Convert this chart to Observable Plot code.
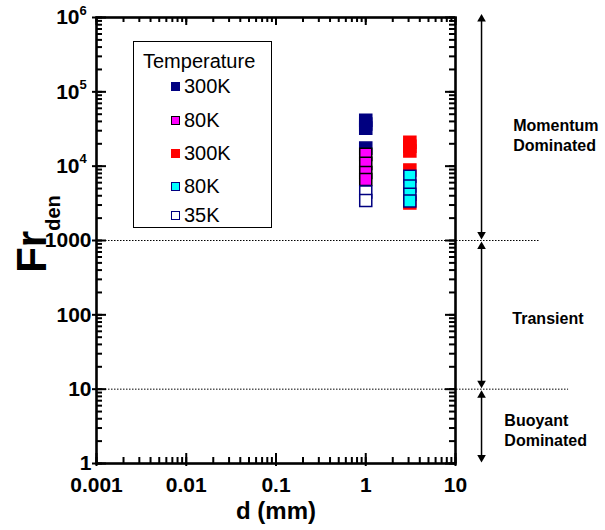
<!DOCTYPE html>
<html><head><meta charset="utf-8">
<script src="https://cdn.jsdelivr.net/npm/d3@7"></script>
<script src="https://cdn.jsdelivr.net/npm/@observablehq/plot@0.6"></script>
<style>
body{margin:0;background:#fff;}
#wrap{position:relative;width:605px;height:530px;font-family:"Liberation Sans",Arial,sans-serif;}
#legend{position:absolute;left:133px;top:41px;width:139px;height:187px;border:1px solid #000;background:#fff;box-sizing:border-box;}
#legend .ttl{position:absolute;left:9px;font-size:20px;line-height:20px;transform:translateY(-50%);}
#legend .row{position:absolute;left:37px;font-size:20px;line-height:20px;display:flex;align-items:center;transform:translateY(-50%);}
#legend .sw{width:9px;height:9px;box-sizing:border-box;margin-right:4px;}
</style></head>
<body><div id="wrap"></div>
<script>
// ---- data ----
const legendTitle = "Temperature";
const seriesLabels = ["300K", "80K", "300K", "80K", "35K"];
const seriesDiam = [1, 1, 3.1, 3.1, 1];            // d (mm)
const fr300K_a = [41500, 37000, 32500, 17500];
const fr80K_a  = [14400, 10900, 8200, 6600];
const fr300K_b = [21000, 18500, 16000, 8900, 3200];
const fr80K_b  = [7300, 5400, 4200, 3400];
const fr35K_a  = [4500, 3450];
const seriesValues = [fr300K_a, fr80K_a, fr300K_b, fr80K_b, fr35K_a];

const xDomain = [0.001, 10];
const yDomain = [1, 1e6];
const xMajor = [0.001, 0.01, 0.1, 1, 10];
const yPlainTicks = [1, 10, 100, 1000];
const yPowTicks = [1e4, 1e5, 1e6];
const yPowExp = ["4", "5", "6"];
const xMinor = d3.scaleLog().domain(xDomain).ticks(30);
const yMinor = d3.scaleLog().domain(yDomain).ticks(30);
const yMajor = [...yPlainTicks, ...yPowTicks];

const regimeBounds = [1000, 10];
const regimeBoundEnd = [86, 182];
const regimeNames = ["Momentum\nDominated", "Transient", "Buoyant\nDominated"];
const regimeLabelX = [44, 43, 35];
const regimeLabelY = [26700, 92, 2.9];
const arrowX = 19.5;
const arrowTop = [1.15e6, 1000, 10];
const arrowBottom = [1000, 10, 1];

// ---- styles ----
const fills = ["#000080", "#ff00ff", "#ff0000", "#00ffff", "#ffffff"];
const strokes = ["#000080", "#000000", "#ff0000", "#000080", "#000080"];

const rows = [];
seriesValues.forEach((vals, s) => vals.forEach(v => rows.push({s, d: seriesDiam[s], fr: v})));
const bounds = regimeBounds.map((y, i) => ({y, x2: regimeBoundEnd[i]}));
const regimes = regimeNames.map((t, i) => ({t, x: regimeLabelX[i], y: regimeLabelY[i]}));
const arrows = arrowTop.map((t, i) => ({x: arrowX, y1: t, y2: arrowBottom[i]}));

const W = 605, H = 530, ML = 96, MR = 150, MT = 17, MB = 67;
const FW = W - ML - MR, FH = H - MT - MB;
const font = "Liberation Sans, Arial, sans-serif";
const tk = {stroke: "black", strokeWidth: 2};

const chart = Plot.plot({
  width: W, height: H,
  marginLeft: ML, marginRight: MR, marginTop: MT, marginBottom: MB,
  x: {type: "log", domain: xDomain},
  y: {type: "log", domain: yDomain},
  style: {fontFamily: font, background: "white", color: "black", overflow: "visible"},
  marks: [
    Plot.ruleY(bounds, {y: "y", x1: 0.001, x2: "x2", stroke: "black", strokeWidth: 1, strokeDasharray: "1.5,1.5"}),
    // inward minor ticks (bottom, top, left, right)
    Plot.ruleX(xMinor, {x: d => d, insetTop: FH - 6, ...tk}),
    Plot.ruleX(xMinor, {x: d => d, insetBottom: FH - 5, ...tk}),
    Plot.ruleY(yMinor, {y: d => d, insetRight: FW - 6, ...tk}),
    Plot.ruleY(yMinor, {y: d => d, insetLeft: FW - 6, ...tk}),
    // inward major ticks
    Plot.ruleX(xMajor, {x: d => d, insetTop: FH - 10, ...tk}),
    Plot.ruleX(xMajor, {x: d => d, insetBottom: FH - 8, ...tk}),
    Plot.ruleY(yMajor, {y: d => d, insetRight: FW - 10, ...tk}),
    Plot.ruleY(yMajor, {y: d => d, insetLeft: FW - 10, ...tk}),
    // outward major ticks
    Plot.ruleX(xMajor, {x: d => d, insetTop: FH, insetBottom: -3, ...tk}),
    Plot.ruleY(yMajor, {y: d => d, insetRight: FW, insetLeft: -4, ...tk}),
    // tick labels
    Plot.axisX({anchor: "bottom", ticks: xMajor, tickSize: 0, tickPadding: 14, tickFormat: d => String(d),
      label: null, fontSize: 21, fontWeight: "bold"}),
    Plot.axisY({anchor: "left", ticks: yPlainTicks, tickSize: 0, tickPadding: 5, tickFormat: d => String(d),
      label: null, fontSize: 21, fontWeight: "bold"}),
    Plot.axisY({anchor: "left", ticks: yPowTicks, tickSize: 0, tickPadding: 17, tickFormat: () => "10",
      label: null, fontSize: 21, fontWeight: "bold"}),
    Plot.text(yPowTicks, {y: d => d, frameAnchor: "left", text: (d, i) => yPowExp[i], dx: -17, dy: -7,
      textAnchor: "start", fontSize: 13, fontWeight: "bold"}),
    Plot.text(["d (mm)"], {frameAnchor: "bottom", text: d => d, dy: 55, fontSize: 24, fontWeight: "bold"}),
    Plot.frame({stroke: "black", strokeWidth: 2.6}),
    // data
    Plot.dot(rows, {x: "d", y: "fr", symbol: "square", r: 6.8,
      fill: d => fills[d.s], stroke: d => strokes[d.s], strokeWidth: 1.5}),
    // regime arrows
    Plot.ruleX(arrows, {x: "x", y1: "y1", y2: "y2", stroke: "black", strokeWidth: 1.5, insetTop: 5, insetBottom: 5}),
    Plot.dot(arrows, {x: "x", y: "y1", symbol: "triangle", r: 3.2, fill: "black", dy: 6}),
    Plot.dot(arrows, {x: "x", y: "y2", symbol: "triangle", r: 3.2, fill: "black", rotate: 180, dy: -6}),
    Plot.text(regimes, {x: "x", y: "y", text: "t", textAnchor: "start", lineAnchor: "middle",
      fontSize: 16, fontWeight: "bold", lineHeight: 1.25})
  ]
});

const wrap = document.getElementById("wrap");
wrap.appendChild(chart);

// y-axis label with subscript
const lab = d3.select(chart).append("text")
  .attr("transform", "translate(46,234) rotate(-90)")
  .attr("text-anchor", "middle")
  .attr("font-family", font).attr("font-weight", "bold").attr("fill", "black");
lab.append("tspan").attr("font-size", 42).text("Fr");
lab.append("tspan").attr("font-size", 20).attr("dy", 14).text("den");

// legend
const legend = document.createElement("div");
legend.id = "legend";
const ttl = document.createElement("div");
ttl.className = "ttl"; ttl.style.top = "19px"; ttl.textContent = legendTitle;
legend.appendChild(ttl);
const rowTops = [44, 78, 111, 144, 173];
seriesLabels.forEach((lbl, i) => {
  const r = document.createElement("div");
  r.className = "row"; r.style.top = rowTops[i] + "px";
  const sw = document.createElement("div");
  sw.className = "sw";
  sw.style.background = fills[i];
  sw.style.border = (i === 0 || i === 2) ? "none" : `1.5px solid ${strokes[i]}`;
  r.appendChild(sw);
  const t = document.createElement("span"); t.textContent = lbl;
  r.appendChild(t);
  legend.appendChild(r);
});
wrap.appendChild(legend);
</script>
</body></html>
